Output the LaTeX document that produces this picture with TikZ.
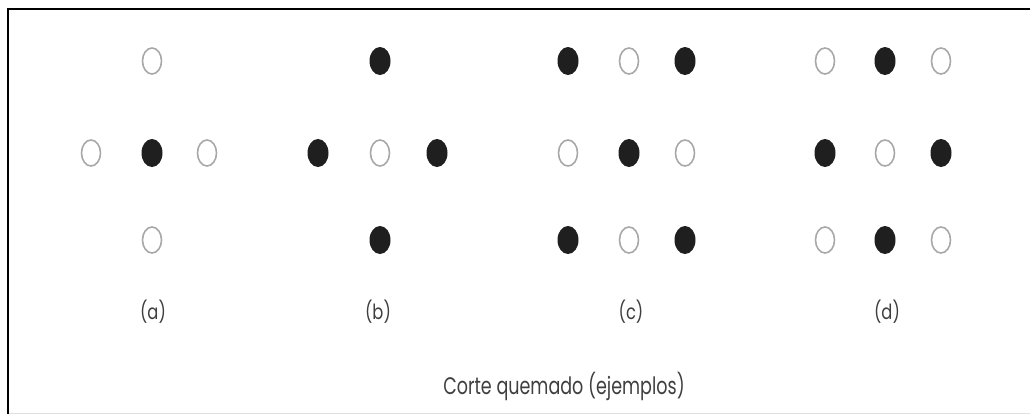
\documentclass[tikz,border=0pt]{standalone}
\usepackage{fontspec}
\setmainfont{Poppins}
\usepackage{xcolor}
\usetikzlibrary{shapes.geometric}
\definecolor{dotgray}{HTML}{A8A8A8}
\definecolor{txtgray}{HTML}{3F3F3F}

\begin{document}
\begin{tikzpicture}[x=1bp, y=-1bp,
  openpt/.style={ellipse, draw=dotgray, line width=1.6bp, minimum width=19bp, minimum height=26bp, inner sep=0pt},
  fullpt/.style={ellipse, fill=black!88, minimum width=21bp, minimum height=28bp, inner sep=0pt},
  lbl/.style={text=txtgray, font=\fontsize{21}{24}\selectfont, xscale=0.78}]
  \useasboundingbox (0,0) rectangle (1030,414);
  % frame
  \draw[line width=2.5bp] (8,414) -- (8,9) -- (1030,9);
  \draw[black!12, line width=1bp] (9,413) -- (1030,413);
  % (a)
  \node[openpt] (at) at (152,61) {};
  \node[openpt] (al) at (91,153) {};
  \node[fullpt] (am) at (152,153) {};
  \node[openpt] (ar) at (207,153) {};
  \node[openpt] (ab) at (152,240) {};
  \node[lbl] (la) at (153,312) {(a)};
  % (b)
  \node[fullpt] (bt) at (380,61) {};
  \node[fullpt] (bl) at (318,153) {};
  \node[openpt] (bm) at (380,153) {};
  \node[fullpt] (br) at (437,153) {};
  \node[fullpt] (bb) at (380,240) {};
  \node[lbl] (lb) at (378,312) {(b)};
  % (c)
  \node[fullpt] (c11) at (568,61) {};
  \node[openpt] (c12) at (629,61) {};
  \node[fullpt] (c13) at (685,61) {};
  \node[openpt] (c21) at (568,153) {};
  \node[fullpt] (c22) at (629,153) {};
  \node[openpt] (c23) at (685,153) {};
  \node[fullpt] (c31) at (568,240) {};
  \node[openpt] (c32) at (629,240) {};
  \node[fullpt] (c33) at (685,240) {};
  \node[lbl] (lc) at (631,312) {(c)};
  % (d)
  \node[openpt] (d11) at (825,61) {};
  \node[fullpt] (d12) at (885,61) {};
  \node[openpt] (d13) at (941,61) {};
  \node[fullpt] (d21) at (825,153) {};
  \node[openpt] (d22) at (885,153) {};
  \node[fullpt] (d23) at (941,153) {};
  \node[openpt] (d31) at (825,240) {};
  \node[fullpt] (d32) at (885,240) {};
  \node[openpt] (d33) at (941,240) {};
  \node[lbl] (ld) at (887,312) {(d)};
  % caption
  \node[lbl, font=\fontsize{24}{28}\selectfont, xscale=0.94] (cap) at (564,386) {Corte quemado (ejemplos)};
\end{tikzpicture}
\end{document}
